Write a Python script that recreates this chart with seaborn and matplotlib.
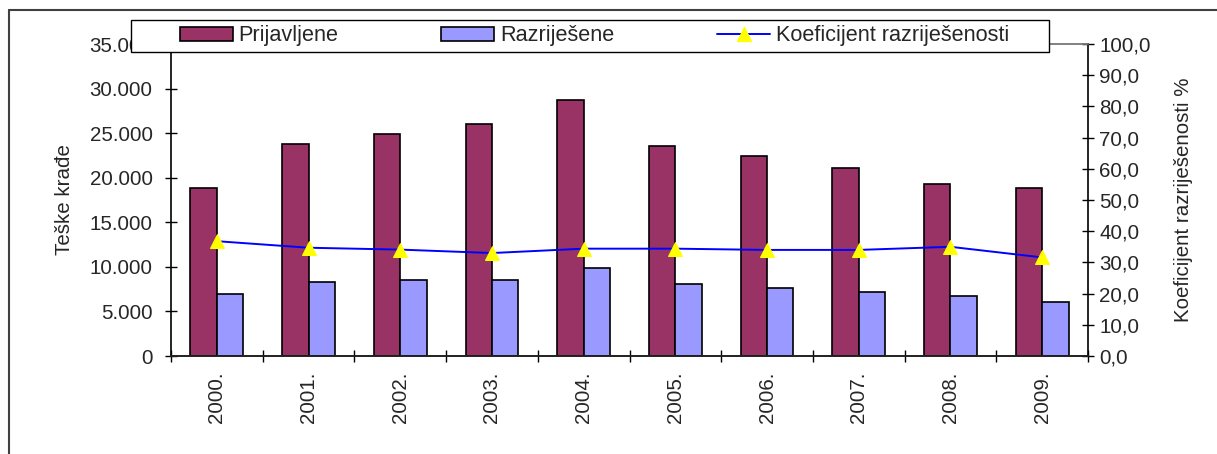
import pandas as pd
import numpy as np
import matplotlib
matplotlib.use("Agg")
import matplotlib.pyplot as plt
import matplotlib.patches as mpatches
from matplotlib.lines import Line2D
from matplotlib.ticker import FuncFormatter, FixedLocator
import seaborn as sns

# ---------------- DATA ----------------
years = ["2000.", "2001.", "2002.", "2003.", "2004.",
         "2005.", "2006.", "2007.", "2008.", "2009."]
prijavljene = [18810, 23780, 24900, 26030, 28700, 23560, 22440, 21060, 19300, 18810]
razrijesene = [6960, 8270, 8490, 8490, 9840, 8080, 7630, 7180, 6730, 6020]
koeficijent = [36.8, 34.7, 34.1, 33.0, 34.4, 34.4, 34.0, 34.0, 35.0, 31.6]

series_names = ["Prijavljene", "Razriješene"]
line_name = "Koeficijent razriješenosti"
colors = {"Prijavljene": "#993366", "Razriješene": "#9999FF"}

bars = pd.DataFrame({
    "godina": years * 2,
    "serija": [series_names[0]] * len(years) + [series_names[1]] * len(years),
    "broj": prijavljene + razrijesene,
})
line_df = pd.DataFrame({"pos": np.arange(len(years)), "koef": koeficijent})

# ---------------- STYLE ----------------
sns.set_style("ticks")
plt.rcParams["font.family"] = ["Liberation Sans", "DejaVu Sans"]
FS = 14.8
LEG_FS = 15.6

W, H = 1217, 454
fig = plt.figure(figsize=(W / 100, H / 100), dpi=100)
ax = fig.add_axes([171 / W, 1 - 356 / H, (1088 - 171) / W, (356 - 44) / H])

# ---------------- BARS ----------------
sns.barplot(data=bars, x="godina", y="broj", hue="serija", palette=colors,
            width=0.575, edgecolor="black", linewidth=1.2, saturation=1,
            legend=False, ax=ax)

# ---------------- LINE ----------------
ax2 = ax.twinx()
sns.lineplot(data=line_df, x="pos", y="koef", ax=ax2, color="#0000FF",
             linewidth=1.4, marker="^", markersize=10.5,
             markerfacecolor="#FFFF00", markeredgecolor="#FFFF00")

n = len(years)
ax.set_xlim(-0.5, n - 0.5)
ax2.set_xlim(-0.5, n - 0.5)
ax.set_ylim(0, 35000)
ax2.set_ylim(0, 100)

# x axis: labels at centres, tick marks between categories
ax.set_xticks(range(n))
ax.set_xticklabels(years, rotation=90, fontsize=FS)
ax.tick_params(axis="x", which="major", length=0, pad=11)
ax.xaxis.set_minor_locator(FixedLocator(np.arange(-0.5, n, 1.0)))
ax.tick_params(axis="x", which="minor", direction="inout", length=8.5,
               width=1, color="black")

ax.yaxis.set_major_locator(FixedLocator(np.arange(0, 35001, 5000)))
ax.yaxis.set_major_formatter(FuncFormatter(lambda v, p: f"{int(v):,}".replace(",", ".")))
ax.tick_params(axis="y", direction="inout", length=8.5, width=1, pad=9,
               labelsize=FS, color="black")

ax2.yaxis.set_major_locator(FixedLocator(np.arange(0, 101, 10)))
ax2.yaxis.set_major_formatter(FuncFormatter(lambda v, p: f"{v:.1f}".replace(".", ",")))
ax2.tick_params(axis="y", direction="inout", length=8.5, width=1, pad=4,
                labelsize=FS, color="black")

ax.set_xlabel("")
ax2.set_xlabel("")
ax.set_ylabel("Teške krađe", fontsize=FS)
ax.yaxis.set_label_coords((74 - 171) / (1088 - 171), 0.5)
ax2.set_ylabel("Koeficijent razriješenosti %", fontsize=FS)
ax2.yaxis.set_label_coords((1174 - 171) / (1088 - 171), 0.5)

for a in (ax, ax2):
    a.spines["top"].set_color("#808080")
    a.spines["top"].set_linewidth(1.2)
    a.spines["bottom"].set_color("#202020")
    a.spines["bottom"].set_linewidth(1.2)
ax.spines["left"].set_color("black")
ax.spines["left"].set_linewidth(1.2)
ax.spines["right"].set_visible(False)
ax2.spines["left"].set_visible(False)
ax2.spines["right"].set_color("black")
ax2.spines["right"].set_linewidth(1.2)
ax.grid(False)
ax2.grid(False)

# ---------------- OUTER FRAME ----------------
fig.add_artist(Line2D([9 / W, 9 / W], [0, 1 - 10 / H], transform=fig.transFigure,
                      color="#404040", linewidth=1.5))
fig.add_artist(Line2D([9 / W, 1], [1 - 10 / H, 1 - 10 / H], transform=fig.transFigure,
                      color="#404040", linewidth=1.5))

# ---------------- LEGEND ----------------
box = mpatches.Rectangle((131 / W, 1 - 52 / H), (1049 - 131) / W, 32 / H,
                         transform=fig.transFigure, facecolor="white",
                         edgecolor="black", linewidth=1, zorder=10)
fig.add_artist(box)

handles = [
    mpatches.Patch(facecolor=colors["Prijavljene"], edgecolor="black", linewidth=1.2),
    mpatches.Patch(facecolor=colors["Razriješene"], edgecolor="black", linewidth=1.2),
    Line2D([], [], color="#0000FF", linewidth=1.4, marker="^", markersize=10.5,
           markerfacecolor="#FFFF00", markeredgecolor="#FFFF00"),
]
leg = fig.legend(handles, series_names + [line_name], ncol=3,
                 loc="center left", bbox_to_anchor=(180 / W, 1 - 36 / H),
                 frameon=False, fontsize=LEG_FS, borderpad=0, handlelength=2.45,
                 handleheight=0.62, handletextpad=0.25, columnspacing=4.75,
                 borderaxespad=0)
leg.set_zorder(11)

fig.savefig("out.png", dpi=100)
